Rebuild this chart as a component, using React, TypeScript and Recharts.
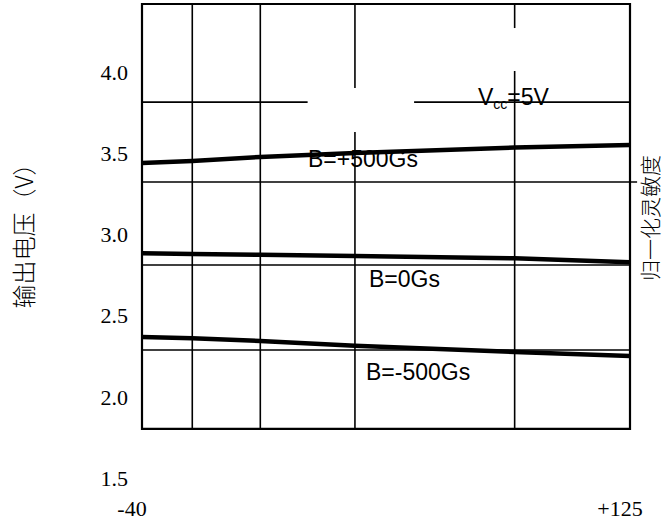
import React from "react";
import {
  LineChart,
  Line,
  XAxis,
  YAxis,
  ReferenceLine,
  ReferenceArea,
} from "recharts";

// temperature (°C) where the curves were read
const temps = [-40, -23, 0, 32, 86, 125];
// output voltage (V) for each field strength
const bPlus500 = [3.44, 3.452, 3.477, 3.501, 3.535, 3.55];
const bZero = [2.884, 2.88, 2.875, 2.867, 2.853, 2.828];
const bMinus500 = [2.368, 2.36, 2.344, 2.315, 2.276, 2.251];

const yTicks = [1.5, 2.0, 2.5, 3.0, 3.5, 4.0];
const xTicks = [-40, 125];
const xTickLabels = ["-40", "+125"];

// frame of the graph (value space)
const xMin = -40;
const xMax = 125;
const yBottom = 1.802;
const yTop = 4.419;

// grid lines
const gridX = [-23, 0];
const gridY = [2.812, 2.288];
// broken / extended grid segments
const gridSegments: [number, number, number, number][] = [
  [32, yTop, 32, 3.901],
  [32, 3.631, 32, yBottom],
  [86, yTop, 86, 4.271],
  [86, 4.006, 86, yBottom],
  [-40, 3.815, 16, 3.815],
  [52, 3.815, 125, 3.815],
  [-40, 3.323, 127.4, 3.323],
];

const data = temps.map((t, i) => ({
  t,
  plus: bPlus500[i],
  zero: bZero[i],
  minus: bMinus500[i],
}));

const serif = { fontFamily: "'Liberation Serif', 'Times New Roman', serif" };
const sans = { fontFamily: "'Liberation Sans', Arial, sans-serif" };
const cjk = { fontFamily: "'Noto Sans CJK SC', sans-serif", fontWeight: 300 };

export default function App() {
  return (
    <div style={{ position: "absolute", left: 0, top: 0, width: 664, height: 521, background: "#fff" }}>
      <LineChart
        width={664}
        height={521}
        data={data}
        margin={{ top: 4, right: 34, bottom: 13, left: 82 }}
      >
        <XAxis
          dataKey="t"
          type="number"
          domain={[xMin, xMax]}
          ticks={xTicks}
          allowDataOverflow
          axisLine={false}
          tickLine={false}
          height={30}
          tick={(p: any) => (
            <text
              x={p.x - 10}
              y={508}
              dy="0.35em"
              textAnchor="middle"
              style={serif}
              fontSize={22}
              fill="#000"
            >
              {xTickLabels[xTicks.indexOf(p.payload.value)]}
            </text>
          )}
        />
        <YAxis
          type="number"
          domain={[1.5, yTop]}
          ticks={yTicks}
          allowDataOverflow
          axisLine={false}
          tickLine={false}
          width={60}
          tick={(p: any) => (
            <text
              x={128}
              y={p.y}
              dy="0.35em"
              textAnchor="end"
              style={serif}
              fontSize={22}
              fill="#000"
            >
              {Number(p.payload.value).toFixed(1)}
            </text>
          )}
        />
        {gridX.map((x) => (
          <ReferenceLine
            key={"gx" + x}
            segment={[{ x, y: yTop }, { x, y: yBottom }]}
            stroke="#000"
            strokeWidth={1.6}
            ifOverflow="visible"
          />
        ))}
        {gridY.map((y) => (
          <ReferenceLine
            key={"gy" + y}
            segment={[{ x: xMin, y }, { x: xMax, y }]}
            stroke="#000"
            strokeWidth={1.6}
            ifOverflow="visible"
          />
        ))}
        {gridSegments.map(([x1, y1, x2, y2], i) => (
          <ReferenceLine
            key={"gs" + i}
            segment={[{ x: x1, y: y1 }, { x: x2, y: y2 }]}
            stroke="#000"
            strokeWidth={1.6}
            ifOverflow="visible"
          />
        ))}
        <ReferenceArea
          x1={xMin}
          x2={xMax}
          y1={yBottom}
          y2={yTop}
          fill="none"
          stroke="#000"
          strokeWidth={2.2}
          ifOverflow="visible"
        />
        <Line
          dataKey="plus"
          type="linear"
          stroke="#000"
          strokeWidth={4.5}
          dot={false}
          isAnimationActive={false}
        />
        <Line
          dataKey="zero"
          type="linear"
          stroke="#000"
          strokeWidth={4.5}
          dot={false}
          isAnimationActive={false}
        />
        <Line
          dataKey="minus"
          type="linear"
          stroke="#000"
          strokeWidth={4.5}
          dot={false}
          isAnimationActive={false}
        />
      </LineChart>
      <svg
        width={664}
        height={521}
        style={{ position: "absolute", left: 0, top: 0, pointerEvents: "none" }}
      >
        <text x={478} y={105} style={sans} fontSize={23} fill="#000">
          V
          <tspan fontSize={14} dy={4}>cc</tspan>
          <tspan dy={-4}>=5V</tspan>
        </text>
        <text x={308} y={167} style={sans} fontSize={23} fill="#000">
          B=+500Gs
        </text>
        <text x={369} y={287} style={sans} fontSize={23} fill="#000">
          B=0Gs
        </text>
        <text x={366} y={380} style={sans} fontSize={23} fill="#000">
          B=-500Gs
        </text>
        <text
          transform="translate(22,230) rotate(-90)"
          textAnchor="middle"
          dominantBaseline="central"
          style={cjk}
          fontSize={24}
          fill="#000"
        >
          输出电压（V）
        </text>
        <text
          transform="translate(649,218) rotate(-90)"
          textAnchor="middle"
          dominantBaseline="central"
          style={cjk}
          fontSize={21}
          fill="#000"
        >
          归一化灵敏度
        </text>
      </svg>
    </div>
  );
}
